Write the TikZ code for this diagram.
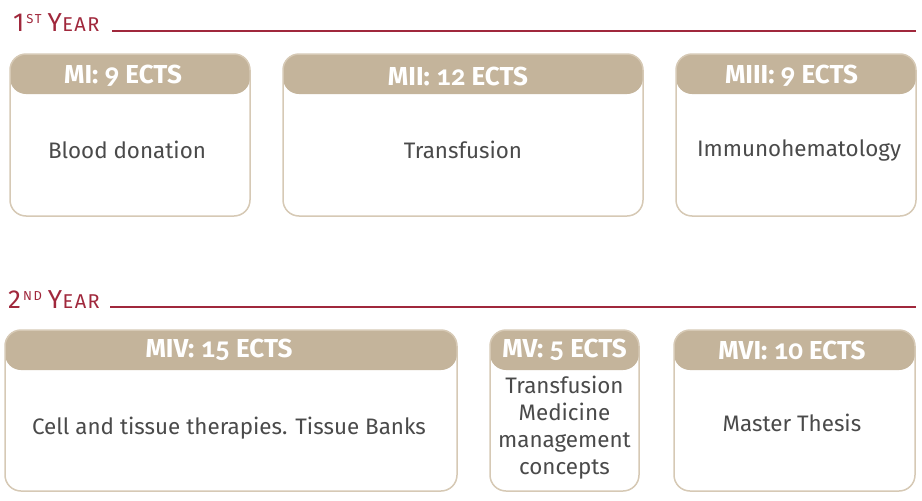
\documentclass[tikz,border=0pt]{standalone}
\usepackage{fontspec}
\setmainfont{Fira Sans}
\newfontfamily\numfont{Carlito}[Numbers=OldStyle]
\definecolor{hdr}{HTML}{C4B49B}
\definecolor{bord}{HTML}{D6C9B5}
\definecolor{ttl}{HTML}{A0283C}
\definecolor{bodytxt}{HTML}{4A4A4A}
\tikzset{
  modbox/.style={draw=bord, line width=1.5pt, fill=white, rounded corners=16pt,
    inner sep=0pt, outer sep=0pt,
    path picture={\fill[hdr] (path picture bounding box.north west) rectangle ([yshift=-40pt]path picture bounding box.north east);}},
  hdtext/.style={text=white, font=\fontsize{26}{28}\selectfont\bfseries, inner sep=0pt},
  bodytext/.style={text=bodytxt, font=\fontsize{22.4}{27}\selectfont, inner sep=0pt, align=center},
  yeartitle/.style={text=ttl, anchor=base west, inner sep=0pt},
  yearline/.style={draw=ttl, line width=1.2pt}
}
\newcommand{\nm}[1]{{\numfont\fontsize{29}{28}\selectfont #1}}
\newcommand{\yr}[2]{{\fontsize{26}{26}\selectfont #1\kern2pt\raisebox{8pt}{\fontsize{13}{13}\selectfont\addfontfeature{LetterSpace=12}#2}\kern6pt Y\kern0.5pt\fontsize{20}{20}\selectfont\addfontfeature{LetterSpace=7}EAR}}
\begin{document}
\begin{tikzpicture}[x=1pt,y=-1pt]
\useasboundingbox (0,0) rectangle (922,501);
% titles
\node[yeartitle] (t1) at (13,31) {\yr{1}{ST}};
\coordinate (l1a) at (112,31);
\coordinate (l1b) at (916,31);
\draw[yearline] (l1a) -- (l1b);
\node[yeartitle] (t2) at (8,308) {\yr{2}{ND}};
\coordinate (l2a) at (110,307);
\coordinate (l2b) at (916,307);
\draw[yearline] (l2a) -- (l2b);
% row 1
\node[modbox, minimum width=240pt, minimum height=162pt] (m1) at (130,135) {};
\node[modbox, minimum width=360pt, minimum height=162pt] (m2) at (463,135) {};
\node[modbox, minimum width=240pt, minimum height=162pt] (m3) at (796,135) {};
\node[hdtext] (h1) at (123,76) {MI: \nm{9} ECTS};
\node[hdtext] (h2) at (458,76) {MII: \nm{12} ECTS};
\node[hdtext] (h3) at (791.5,76) {MIII: \nm{9} ECTS};
\node[bodytext] (b1) at (127,150) {Blood donation};
\node[bodytext] (b2) at (463,150) {Transfusion};
\node[bodytext] (b3) at (799,150) {Immunohematology};
% row 2
\node[modbox, minimum width=452pt, minimum height=161pt] (m4) at (231,410.5) {};
\node[modbox, minimum width=149pt, minimum height=161pt] (m5) at (564.5,410.5) {};
\node[modbox, minimum width=241pt, minimum height=161pt] (m6) at (794.5,410.5) {};
\node[hdtext] (h4) at (219,350) {MIV: \nm{15} ECTS};
\node[hdtext] (h5) at (564.5,350) {MV: \nm{5} ECTS};
\node[hdtext] (h6) at (792,350) {MVI: \nm{10} ECTS};
\node[bodytext] (b4) at (229,428) {Cell and tissue therapies. Tissue Banks};
\node[bodytext] (b5) at (564.5,428) {Transfusion\\Medicine\\management\\concepts};
\node[bodytext] (b6) at (792,423) {Master Thesis};
\end{tikzpicture}
\end{document}
